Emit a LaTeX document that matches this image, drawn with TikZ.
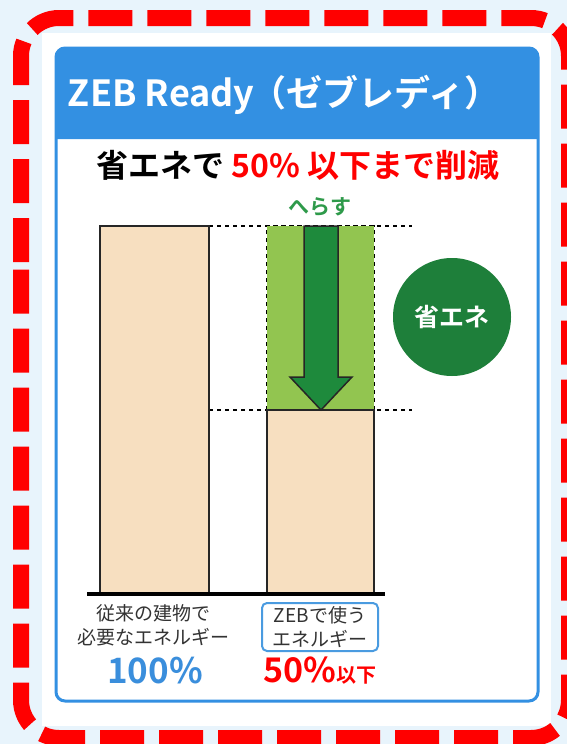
\documentclass[tikz,border=0pt]{standalone}
\usepackage{fontspec}
\newfontfamily\jp{Noto Sans CJK JP}
\newfontfamily\jpb{Noto Sans CJK JP Bold}
\definecolor{bgblue}{HTML}{E8F4FC}
\definecolor{panelblue}{HTML}{3390E2}
\definecolor{zred}{HTML}{FF0000}
\definecolor{tan}{HTML}{F7DFC0}
\definecolor{lgreen}{HTML}{92C550}
\definecolor{dgreen}{HTML}{1E8A3C}
\definecolor{cgreen}{HTML}{1E7F3A}
\definecolor{tgreen}{HTML}{2E9A4A}
\definecolor{pblue}{HTML}{3A8EDC}
\definecolor{lblue}{HTML}{4A9BE0}
\definecolor{gtext}{HTML}{333333}
\tikzset{
  barbox/.style={draw=black!85, line width=2, fill=tan, inner sep=0, minimum width=109},
  guide/.style={line width=1.2, dash pattern=on 4pt off 4pt},
  lbl/.style={text=gtext, align=center, font=\jp\fontsize{19}{24}\selectfont, inner sep=0},
}
\begin{document}
\begin{tikzpicture}[x=1pt,y=-1pt]
\useasboundingbox (0,0) rectangle (567,744);
\clip (0,0) rectangle (567,744);
\fill[bgblue] (0,0) rectangle (567,744);
\fill[white] (42,33) rectangle (551,726);
% red dashed frame
\draw[zred, line width=16, rounded corners=38, dash pattern=on 44pt off 15pt]
  (21,300) -- (21,18) -- (569,18) -- (569,738) -- (21,738) -- cycle;
% panel
\fill[white] (56,48) rectangle (538,701);
\fill[panelblue] (56,139) [rounded corners=9] -- (56,48) -- (538,48) [sharp corners] -- (538,139) -- cycle;
\draw[panelblue, line width=3, rounded corners=9] (56,48) rectangle (538,701);
\node[text=white, font=\jpb\fontsize{36}{40}\selectfont, inner sep=0] (title) at (284,95) {ZEB Ready\kern-4pt（ゼブレディ）};
\node[font=\jpb\fontsize{32}{36}\selectfont, inner sep=0] (sub) at (298,165) {省エネで \textcolor{zred}{50\% 以下まで削減}};
% guide lines
\coordinate (gt1) at (412,226);
\coordinate (gt2) at (412,410);
\coordinate (ga1) at (209,226);
\coordinate (ga2) at (209,410);
\draw[guide] (ga1) -- (gt1);
\draw[guide] (ga2) -- (gt2);
% bars
\node[fill=lgreen, inner sep=0, minimum width=107, minimum height=184] (save) at (320.5,318) {};
\draw[guide] (save.south west) -- (save.north west) -- (save.north east) -- (save.south east);
\node[barbox, minimum height=368] (bar1) at (154.5,410) {};
\node[barbox, minimum width=107, minimum height=184] (bar2) at (320.5,502) {};
\coordinate (b1) at (87,594);
\coordinate (b2) at (385,594);
\draw[black, line width=4] (b1) -- (b2);
% arrow
\draw[fill=dgreen, draw=black!85, line width=1.5]
  (304,226) -- (338,226) -- (338,377) -- (352,377) -- (321,410) -- (290,377) -- (304,377) -- cycle;
\node[text=tgreen, font=\jpb\fontsize{21}{24}\selectfont, inner sep=0] (herasu) at (320,207) {へらす};
% circle
\node[circle, fill=cgreen, minimum size=118, inner sep=0, text=white, font=\jpb\fontsize{25}{28}\selectfont] (shoene) at (452,317) {省エネ};
% labels
\node[lbl] (l1) at (153,625) {従来の建物で\\必要なエネルギー};
\node[lbl, draw=lblue, line width=2, rounded corners=5, minimum width=116, minimum height=48] (l2) at (320,627) {ZEBで使う\\エネルギー};
\node[text=pblue, font=\jpb\fontsize{35}{38}\selectfont, inner sep=0] (p1) at (155,671) {100\%};
\node[text=zred, font=\jpb\fontsize{34}{38}\selectfont, inner sep=0] (p2) at (320,671) {50\%{\fontsize{20}{22}\selectfont 以下}};
\end{tikzpicture}
\end{document}
